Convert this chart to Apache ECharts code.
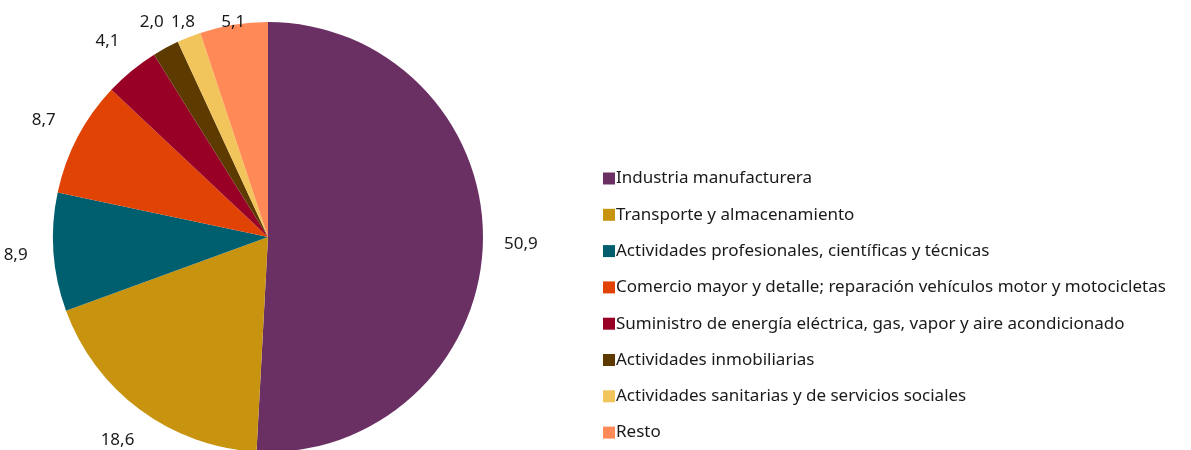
<!DOCTYPE html>
<html>
<head>
<meta charset="utf-8">
<script src="https://cdn.jsdelivr.net/npm/echarts@6/dist/echarts.min.js"></script>
<style>
  html, body { margin: 0; padding: 0; background: #ffffff; }
  #chart { width: 1191px; height: 450px; }
</style>
</head>
<body>
<div id="chart"></div>
<script>
// Sector shares (%) by economic activity
const categories = [
  'Industria manufacturera',
  'Transporte y almacenamiento',
  'Actividades profesionales, científicas y técnicas',
  'Comercio mayor y detalle; reparación vehículos motor y motocicletas',
  'Suministro de energía eléctrica, gas, vapor y aire acondicionado',
  'Actividades inmobiliarias',
  'Actividades sanitarias y de servicios sociales',
  'Resto'
];
const shares = [50.9, 18.6, 8.9, 8.7, 4.1, 2.0, 1.8, 5.1];
const palette = ['#6a3064', '#c8930f', '#005f6e', '#e04304', '#990026', '#5c3a00', '#f2c45c', '#ff8a58'];

const FONT = '"Noto Sans", "Open Sans", sans-serif';
const CENTER = [268, 237];
const TOP_LIMIT = 22;
const pieData = categories.map((name, i) => ({ name, value: shares[i] }));

const chart = echarts.init(document.getElementById('chart'), null, { renderer: 'canvas' });

chart.setOption({
  animation: false,
  color: palette,
  legend: {
    orient: 'vertical',
    left: 598,
    top: 165,
    height: 300,
    itemWidth: 12,
    itemHeight: 12,
    itemGap: 19.3,
    icon: 'rect',
    textStyle: { fontFamily: FONT, fontSize: 17, color: '#1a1a1a', padding: [0, 0, 0, -4], lineHeight: 17 },
    data: categories
  },
  series: [
    {
      name: 'sectores',
      type: 'pie',
      center: CENTER,
      radius: [0, 215],
      startAngle: 90,
      clockwise: true,
      avoidLabelOverlap: false,
      label: { show: false },
      labelLine: { show: false },
      itemStyle: { borderWidth: 0 },
      emphasis: { disabled: true },
      data: pieData
    },
    {
      // invisible ring that only carries the value labels around the pie
      name: 'etiquetas',
      type: 'pie',
      center: CENTER,
      radius: [244, 256],
      startAngle: 90,
      clockwise: true,
      silent: true,
      avoidLabelOverlap: false,
      legendHoverLink: false,
      itemStyle: { color: 'rgba(0,0,0,0)', borderWidth: 0 },
      label: {
        show: true,
        position: 'inside',
        fontFamily: FONT,
        fontSize: 17,
        color: '#1a1a1a',
        formatter: p => p.value.toFixed(1).replace('.', ',')
      },
      labelLine: { show: false },
      // labels that would leave the top edge slide inward along their ray
      labelLayout: p => {
        const r = p.labelRect;
        const lx = r.x + r.width / 2;
        const ly = r.y + r.height / 2;
        if (ly >= TOP_LIMIT) return {};
        const t = (CENTER[1] - TOP_LIMIT) / (CENTER[1] - ly);
        return { x: CENTER[0] + (lx - CENTER[0]) * t, y: TOP_LIMIT };
      },
      emphasis: { disabled: true },
      data: pieData
    }
  ]
});
</script>
</body>
</html>
